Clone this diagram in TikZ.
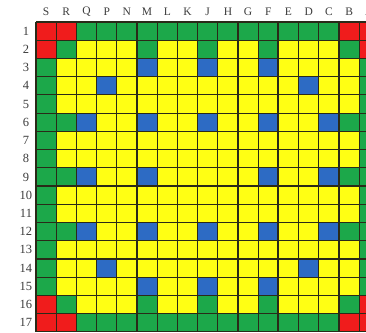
\documentclass[tikz,border=0pt]{standalone}
\usepackage{fontspec}
\setmainfont{Liberation Serif}
\definecolor{cred}{HTML}{F01C1C}
\definecolor{cgreen}{HTML}{1CA84A}
\definecolor{cyellow}{HTML}{FFFF14}
\definecolor{cblue}{HTML}{2D6BC4}
\definecolor{cline}{HTML}{2A2A18}
\definecolor{clabel}{HTML}{3C3C3C}
\newcommand\mycell[3]{\fill[#3] ({36+(#1-1)*20.2},{22+(#2-1)*18.23}) rectangle ++(20.2,18.23);}
\tikzset{
  gridline/.style={draw=cline, line width=1.1pt},
  thickline/.style={draw=cline, line width=2pt},
  collabel/.style={text=clabel, font=\fontsize{11.5}{13}\selectfont, inner sep=0pt},
  rowlabel/.style={text=clabel, font=\fontsize{12.5}{14}\selectfont, inner sep=0pt}
}
\begin{document}
\begin{tikzpicture}[x=1pt,y=-1pt]
\useasboundingbox (0,0) rectangle (366,332);
\fill[white] (0,0) rectangle (366,332);
\begin{scope}
\clip (0,0) rectangle (366,332);
% base yellow
\fill[cyellow] (36,22) rectangle ++({17*20.2},{17*18.23});
% green border
\foreach \c in {3,...,15} {\mycell{\c}{1}{cgreen}\mycell{\c}{17}{cgreen}}
\foreach \r in {3,...,15} {\mycell{1}{\r}{cgreen}\mycell{17}{\r}{cgreen}}
\foreach \c in {2,6,9,12,16} {\mycell{\c}{2}{cgreen}\mycell{\c}{16}{cgreen}}
\foreach \r in {6,9,12} {\mycell{2}{\r}{cgreen}\mycell{16}{\r}{cgreen}}
% red corners
\foreach \c/\r in {1/1,2/1,1/2,16/1,17/1,17/2,1/16,1/17,2/17,17/16,16/17,17/17} {\mycell{\c}{\r}{cred}}
% blue
\foreach \c/\r in {6/3,9/3,12/3,4/4,14/4,3/6,6/6,9/6,12/6,15/6,3/9,6/9,12/9,15/9,3/12,6/12,9/12,12/12,15/12,4/14,14/14,6/15,9/15,12/15} {\mycell{\c}{\r}{cblue}}
% grid lines
\foreach \i in {0,...,17} {
  \draw[gridline] ({36+\i*20.2},22) -- ({36+\i*20.2},{22+17*18.23});
  \draw[gridline] (36,{22+\i*18.23}) -- ({36+17*20.2},{22+\i*18.23});
}
\draw[thickline] ({36+12*20.2},22) -- ({36+12*20.2},{22+17*18.23});
\draw[thickline] (36,{22+9*18.23}) -- ({36+17*20.2},{22+9*18.23});
% labels
\foreach \l [count=\i] in {S,R,Q,P,N,M,L,K,J,H,G,F,E,D,C,B,A} {
  \node[collabel] (col\i) at ({36+(\i-0.5)*20.2},12) {\l};
}
\foreach \i in {1,...,17} {
  \node[rowlabel] (row\i) at (26,{22+(\i-0.5)*18.23}) {\i};
}
\end{scope}
\end{tikzpicture}
\end{document}
